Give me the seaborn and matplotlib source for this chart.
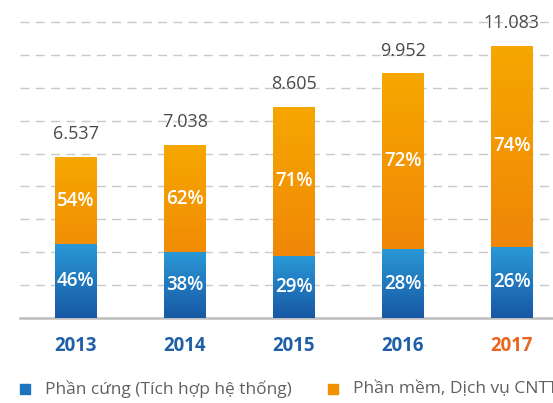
import numpy as np
import pandas as pd
import matplotlib
matplotlib.use("Agg")
import matplotlib.pyplot as plt
import seaborn as sns
from matplotlib.colors import LinearSegmentedColormap
from matplotlib.patches import Rectangle

years = ["2013", "2014", "2015", "2016", "2017"]
totals = [6537, 7038, 8605, 9952, 11083]
total_labels = ["6.537", "7.038", "8.605", "9.952", "11.083"]
hw_pct = [46, 38, 29, 28, 26]
sw_pct = [54, 62, 71, 72, 74]
legend_labels = ["Phần cứng (Tích hợp hệ thống)", "Phần mềm, Dịch vụ CNTT"]

sns.set_theme(style="white")
plt.rcParams['font.family'] = ['Open Sans', 'DejaVu Sans']

df = pd.DataFrame({
    "year": years,
    "total": totals,
    "hw": [t * p / 100 for t, p in zip(totals, hw_pct)],
})

W, H = 553, 403
fig = plt.figure(figsize=(W / 100, H / 100), dpi=100)
base_px = 317.7
ax = fig.add_axes([20 / W, (H - base_px) / H, (W - 20) / W, base_px / H])

sns.barplot(data=df, x="year", y="total", color="#f39200", width=0.385, ax=ax, zorder=3)
n_orange = len(ax.patches)
sns.barplot(data=df, x="year", y="hw", color="#1f74bf", width=0.385, ax=ax, zorder=4)

def gradient(patch, c_top, c_bottom, z):
    x0, y0 = patch.get_x(), patch.get_y()
    w, h = patch.get_width(), patch.get_height()
    cmap = LinearSegmentedColormap.from_list("g", [c_top, c_bottom])
    grad = np.linspace(0, 1, 256).reshape(-1, 1)
    im = ax.imshow(grad, extent=[x0, x0 + w, y0, y0 + h], origin="upper",
                   aspect="auto", cmap=cmap, zorder=z, interpolation="bilinear")
    im.set_clip_path(patch)
    patch.set_facecolor("none")
    patch.set_edgecolor("none")

for p in ax.patches[:n_orange]:
    gradient(p, "#f6a700", "#ee7a0a", 3)
for p in ax.patches[n_orange:]:
    gradient(p, "#2a98d6", "#1858a5", 4)

ax.set_xlim(-0.509, 4.377)
ax.set_ylim(0, 12946)

for i, (t, lab) in enumerate(zip(totals, total_labels)):
    ax.annotate(lab, (i, t), xytext=(0, 10), textcoords="offset points",
                ha="center", va="bottom", fontsize=13, color="#4a4a4a",
                fontweight="medium")
    hw = t * hw_pct[i] / 100
    ax.text(i, hw / 2, f"{hw_pct[i]}%", ha="center", va="center",
            fontsize=13.5, color="white", fontweight="semibold", zorder=6)
    ax.text(i, hw + (t - hw) / 2, f"{sw_pct[i]}%", ha="center", va="center",
            fontsize=13.5, color="white", fontweight="semibold", zorder=6)

ax.set_yticks(np.arange(1337, 12100, 1337))
ax.set_yticklabels([])
ax.yaxis.grid(True, linestyle=(0, (6.5, 4.5)), color="#c9c9c9", lw=1)
ax.set_axisbelow(True)
ax.tick_params(axis="y", length=0)
ax.tick_params(axis="x", length=0, pad=13)
for lab in ax.get_xticklabels():
    lab.set_fontweight("bold")
    lab.set_fontsize(13.4)
    lab.set_color("#e8661e" if lab.get_text() == "2017" else "#1f5fa8")
ax.set_xlabel("")
ax.set_ylabel("")
for s in ["top", "right", "left"]:
    ax.spines[s].set_visible(False)
ax.spines["bottom"].set_color("#bdbdbd")
ax.spines["bottom"].set_linewidth(1.8)

# legend
leg_y = 389
for (mx, tx, col, lab) in [(20, 45, "#1f74bf", legend_labels[0]),
                           (328, 353, "#f39200", legend_labels[1])]:
    fig.add_artist(Rectangle((mx / W, (H - leg_y - 5) / H), 10 / W, 10 / H,
                             transform=fig.transFigure, color=col))
    fig.text(tx / W, (H - leg_y) / H, lab, ha="left", va="center",
             fontsize=12.5, color="#606060")

fig.savefig("out.png", dpi=100)
